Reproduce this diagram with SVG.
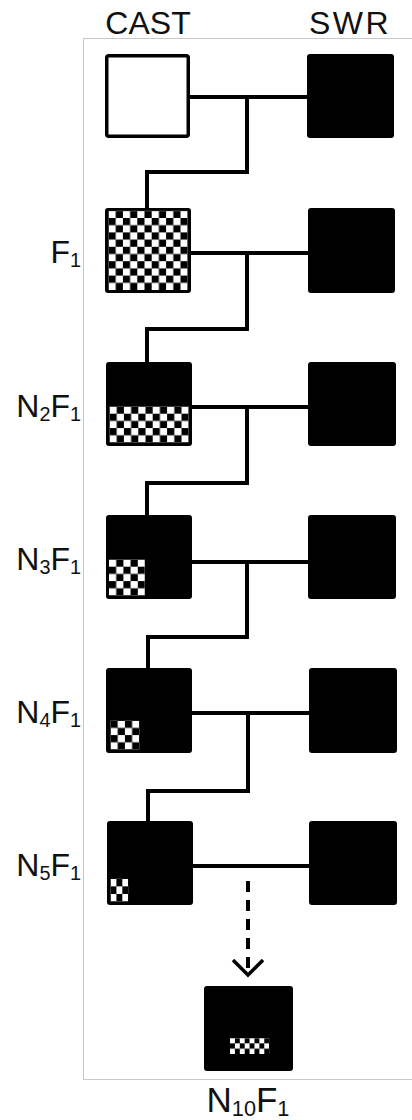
<svg xmlns="http://www.w3.org/2000/svg" width="412" height="1120" viewBox="0 0 412 1120">
  <style>
    .lbl { font-family: "Liberation Sans", Arial, sans-serif; fill: #111; }
    .sub { font-size: 0.62em; }
    .sq { fill: #000; }
    .wire { fill: none; stroke: #000; stroke-width: 4; stroke-linejoin: miter; stroke-linecap: butt; }
    .dash { fill: none; stroke: #000; stroke-width: 4; stroke-dasharray: 11 8; }
  </style>
  <defs>
    <!-- 2x2 checker tile, white cells on the off-diagonal so a cell ending at y=0 starts white -->
    <pattern id="chk" patternUnits="userSpaceOnUse" width="14.4" height="14.4">
      <rect x="7.2" y="0" width="7.2" height="7.2" fill="#fff"/>
      <rect x="0" y="7.2" width="7.2" height="7.2" fill="#fff"/>
    </pattern>
    <marker id="chev" markerUnits="userSpaceOnUse" markerWidth="40" markerHeight="34" refX="16" refY="16" orient="auto" viewBox="0 0 40 34">
      <path d="M1,1 L16,16 L1,31" fill="none" stroke="#000" stroke-width="3.5"/>
    </marker>
  </defs>

  <rect width="412" height="1120" fill="#fff"/>
  <!-- frame -->
  <rect x="83.5" y="38.5" width="340" height="1041" fill="none" stroke="#c8c8c8" stroke-width="1"/>

  <!-- column headings -->
  <text class="lbl" x="148" y="34" font-size="32" text-anchor="middle">CAST</text>
  <text class="lbl" x="350" y="34" font-size="32" text-anchor="middle" letter-spacing="2.5">SWR</text>

  <!-- generation labels -->
  <g id="labels">
    <text class="lbl" x="81" y="263" font-size="32" text-anchor="end">F<tspan class="sub" dy="4">1</tspan></text>
    <text class="lbl" x="81" y="417" font-size="32" text-anchor="end">N<tspan class="sub" dy="4">2</tspan><tspan dy="-4">F</tspan><tspan class="sub" dy="4">1</tspan></text>
    <text class="lbl" x="81" y="570" font-size="32" text-anchor="end">N<tspan class="sub" dy="4">3</tspan><tspan dy="-4">F</tspan><tspan class="sub" dy="4">1</tspan></text>
    <text class="lbl" x="81" y="723" font-size="32" text-anchor="end">N<tspan class="sub" dy="4">4</tspan><tspan dy="-4">F</tspan><tspan class="sub" dy="4">1</tspan></text>
    <text class="lbl" x="81" y="876" font-size="32" text-anchor="end">N<tspan class="sub" dy="4">5</tspan><tspan dy="-4">F</tspan><tspan class="sub" dy="4">1</tspan></text>
    <text class="lbl" x="248" y="1112" font-size="35" text-anchor="middle">N<tspan class="sub" dy="4">10</tspan><tspan dy="-4">F</tspan><tspan class="sub" dy="4">1</tspan></text>
  </g>

  <!-- connectors -->
  <g id="connectors">
    <path class="wire" d="M190,97 H308 M247,97 V172 H147 V208"/>
    <path class="wire" d="M191,253 H308 M247,253 V329 H147 V362"/>
    <path class="wire" d="M192,407 H308 M247,407 V483 H147 V515"/>
    <path class="wire" d="M192,562 H308 M247,562 V637 H148 V668"/>
    <path class="wire" d="M192,713 H309 M248,713 V791 H148 V821"/>
    <path class="wire" d="M193,866 H309"/>
    <path class="dash" d="M248,881 V975" marker-end="url(#chev)"/>
  </g>

  <!-- CAST parent -->
  <g id="cast-p">
    <rect x="106.75" y="55.75" width="81.5" height="80.5" rx="2" fill="#fff" stroke="#000" stroke-width="3.5"/>
  </g>
  <!-- SWR parents -->
  <g id="swr-1"><rect class="sq" x="307" y="54" width="87" height="84" rx="3"/></g>
  <g id="swr-2"><rect class="sq" x="308" y="208" width="87" height="85" rx="3"/></g>
  <g id="swr-3"><rect class="sq" x="308" y="362" width="88" height="84" rx="3"/></g>
  <g id="swr-4"><rect class="sq" x="308" y="515" width="88" height="84" rx="3"/></g>
  <g id="swr-5"><rect class="sq" x="309" y="668" width="88" height="85" rx="3"/></g>
  <g id="swr-6"><rect class="sq" x="309" y="821" width="88" height="84" rx="3"/></g>

  <!-- F1: fully heterozygous -->
  <g id="f1">
    <rect class="sq" x="105" y="208" width="86" height="85" rx="3"/>
    <g transform="translate(108.5,290)"><rect x="0" y="-79.2" width="79.2" height="79.2" fill="url(#chk)"/></g>
  </g>
  <!-- N2F1 -->
  <g id="n2f1">
    <rect class="sq" x="106" y="362" width="86" height="84" rx="3"/>
    <g transform="translate(109.5,442.5)"><rect x="0" y="-36" width="79.2" height="36" fill="url(#chk)"/></g>
  </g>
  <!-- N3F1 -->
  <g id="n3f1">
    <rect class="sq" x="106" y="515" width="86" height="84" rx="3"/>
    <g transform="translate(109,595.5)"><rect x="0" y="-36" width="36" height="36" fill="url(#chk)"/></g>
  </g>
  <!-- N4F1 -->
  <g id="n4f1">
    <rect class="sq" x="106" y="668" width="86" height="85" rx="3"/>
    <g transform="translate(110.5,749.5)"><rect x="0" y="-28.8" width="28.8" height="28.8" fill="url(#chk)"/></g>
  </g>
  <!-- N5F1 -->
  <g id="n5f1">
    <rect class="sq" x="107" y="821" width="86" height="84" rx="3"/>
    <g transform="translate(110.5,901.5) scale(0.82,1.05)"><rect x="0" y="-21.6" width="21.6" height="21.6" fill="url(#chk)"/></g>
  </g>
  <!-- N10F1 -->
  <g id="n10f1">
    <rect class="sq" x="204" y="986" width="89" height="85" rx="3"/>
    <g transform="translate(230,1054) scale(0.68,0.74)"><rect x="0" y="-21.6" width="57.6" height="21.6" fill="url(#chk)"/></g>
  </g>
</svg>
